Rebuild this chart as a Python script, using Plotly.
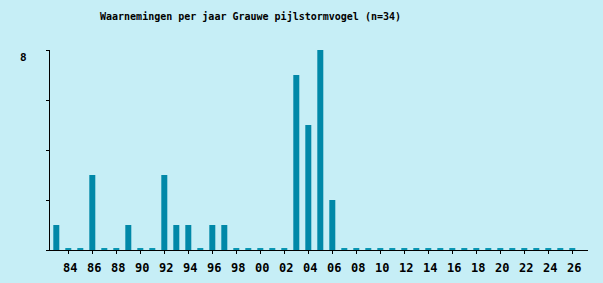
import plotly.graph_objects as go

years = list(range(1983, 2027))
counts = [1, 0, 0, 3, 0, 0, 1, 0, 0, 3, 1, 1, 0, 1, 1,
          0, 0, 0, 0, 0, 7, 5, 8, 2] + [0] * 20
tick_years = list(range(1984, 2027, 2))
tick_labels = [f"{y % 100:02d}" for y in tick_years]
title_text = "Waarnemingen per jaar Grauwe pijlstormvogel (n=34)"
ymax_label = "8"

BG = "#C6EEF6"
BAR = "#0088A8"
STUB = "#0A95B2"
FONT = "DejaVu Sans Mono"

W, H = 603, 283
ML, MR, MT, MB = 50, 15, 50, 33
pw = W - ML - MR
ph = H - MT - MB

fig = go.Figure()
fig.add_trace(go.Bar(x=years, y=counts, width=0.5, marker_color=BAR,
                     marker_line_width=0, hoverinfo="x+y"))

for yr, c in zip(years, counts):
    if c == 0:
        fig.add_shape(type="rect", xref="x", yref="y", x0=yr - 0.25, x1=yr + 0.25,
                      ysizemode="pixel", yanchor=0, y0=0, y1=2,
                      fillcolor=STUB, line_width=0, layer="above")

fig.update_layout(
    width=W, height=H,
    margin=dict(l=ML, r=MR, t=MT, b=MB, pad=0, autoexpand=False),
    paper_bgcolor=BG, plot_bgcolor=BG,
    showlegend=False,
    font=dict(family=FONT, size=11, color="black"),
    xaxis=dict(range=[1982.475, 2027.308], showgrid=False, zeroline=False,
               showline=True, linecolor="black", linewidth=1,
               ticks="outside", ticklen=3, tickcolor="black", tickwidth=1,
               tickvals=tick_years, ticktext=tick_labels,
               tickfont=dict(family=FONT, size=12, weight="bold"),
               ticklabelstandoff=4, ticklabelshift=2, automargin=False,
               fixedrange=True),
    yaxis=dict(range=[0, 8], showgrid=False, zeroline=False,
               showline=True, linecolor="black", linewidth=1,
               ticks="outside", ticklen=3, tickcolor="black", tickwidth=1,
               tickvals=[0, 2, 4, 6, 8], showticklabels=False,
               automargin=False, fixedrange=True),
    annotations=[
        dict(text=title_text, xref="paper", yref="paper",
             x=(250 - ML) / pw, y=(H - MB - 16) / ph,
             xanchor="center", yanchor="middle", showarrow=False,
             font=dict(family=FONT, size=10, weight="bold", color="black")),
        dict(text=ymax_label, xref="paper", yref="paper",
             x=(23 - ML) / pw, y=(H - MB - 57.5) / ph,
             xanchor="center", yanchor="middle", showarrow=False,
             font=dict(family=FONT, size=11, weight="bold", color="black")),
    ],
)

fig.write_html("out.html")
